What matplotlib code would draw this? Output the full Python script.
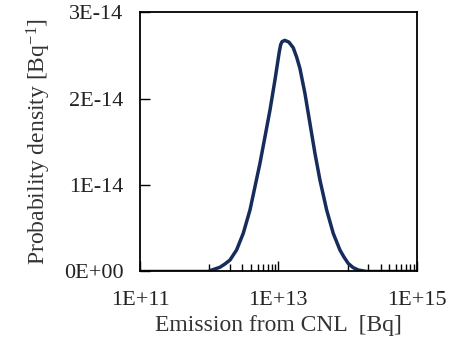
import matplotlib
matplotlib.use("Agg")
import matplotlib.pyplot as plt
from matplotlib.ticker import FixedLocator, NullFormatter

# --- data ---
emission_bq = [1.0e11, 5.0e11, 1.0e12, 1.03e12, 1.43e12, 1.69e12, 2.0e12, 2.49e12,
               3.11e12, 3.89e12, 4.59e12, 5.42e12, 6.41e12, 7.57e12, 8.93e12,
               1.03e13, 1.08e13, 1.13e13, 1.24e13, 1.42e13, 1.64e13, 1.84e13, 2.05e13,
               2.42e13, 2.86e13, 3.38e13, 3.99e13, 4.99e13, 6.21e13, 7.76e13,
               8.87e13, 1.02e14, 1.20e14, 1.43e14, 1.89e14, 5.0e14, 1.0e15]
density = [0.0, 0.0, 0.0, 0.01, 0.049, 0.087, 0.133, 0.249,
           0.442, 0.712, 0.981, 1.252, 1.560, 1.869, 2.216,
           2.540, 2.625, 2.660, 2.675, 2.655, 2.590, 2.480, 2.350,
           2.063, 1.715, 1.368, 1.059, 0.712, 0.442, 0.249,
           0.168, 0.095, 0.046, 0.017, 0.0, 0.0, 0.0]
density = [d * 1e-14 for d in density]

x_major = [1e11, 1e13, 1e15]
x_labels = ["1E+11", "1E+13", "1E+15"]
x_minor = [k * 1e12 for k in range(1, 10)] + [k * 1e14 for k in range(1, 10)]
y_major = [0, 1e-14, 2e-14, 3e-14]
y_labels = ["0E+00", "1E-14", "2E-14", "3E-14"]

plt.rcParams['font.family'] = ['Liberation Serif', 'DejaVu Serif']
plt.rcParams['mathtext.fontset'] = 'custom'
plt.rcParams['mathtext.rm'] = 'Liberation Serif'

fig = plt.figure(figsize=(4.62, 3.51), dpi=100)
ax = fig.add_axes([0.303, 0.2265, 0.599, 0.7385])

ax.plot(emission_bq, density, color='#172c5c', lw=2.5,
        solid_capstyle='round', solid_joinstyle='round')

ax.set_xscale('log')
ax.set_xlim(1e11, 1e15)
ax.set_ylim(0, 3e-14)

ax.xaxis.set_major_locator(FixedLocator(x_major))
ax.set_xticklabels(x_labels)
ax.xaxis.set_minor_locator(FixedLocator(x_minor))
ax.xaxis.set_minor_formatter(NullFormatter())
ax.yaxis.set_major_locator(FixedLocator(y_major))
ax.set_yticklabels(y_labels)

ax.tick_params(axis='x', which='major', direction='in', length=7, width=1, pad=14,
               labelsize=16, labelcolor='#222222')
ax.tick_params(axis='x', which='minor', direction='in', length=5, width=1)
ax.tick_params(axis='y', which='major', direction='in', length=7, width=1, pad=12,
               labelsize=16, labelcolor='#222222')

for s in ax.spines.values():
    s.set_linewidth(1.3)
    s.set_color('black')

ax.set_xlabel('Emission from CNL  [Bq]', fontsize=17, labelpad=4, color='#333333')
ax.set_ylabel(r'Probability density [Bq$\mathregular{^{-1}}$]', fontsize=17,
              labelpad=8, color='#333333')

fig.savefig('out.png', dpi=100)
